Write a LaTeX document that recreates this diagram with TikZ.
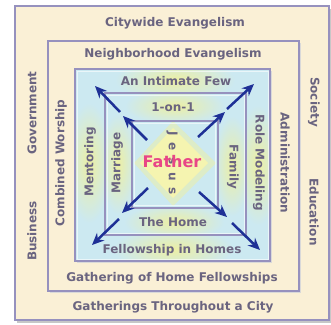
\documentclass[tikz,border=0pt]{standalone}
\usepackage{fontspec}
\setmainfont{DejaVu Sans}
\usetikzlibrary{arrows.meta}
\definecolor{cream}{RGB}{250,240,214}
\definecolor{bluefill}{RGB}{204,233,241}
\definecolor{edge}{RGB}{150,145,190}
\definecolor{txt}{RGB}{106,100,128}
\definecolor{arrowblue}{RGB}{30,48,150}
\definecolor{glowy}{RGB}{242,240,150}
\definecolor{fatherpink}{RGB}{232,70,135}
\begin{document}
\begin{tikzpicture}[x=1pt,y=-1pt,
  lbl/.style={font=\fontsize{12}{14}\bfseries\selectfont, text=txt, inner sep=0pt},
  frame/.style={draw=edge, line width=1.4pt},
  bevel/.style={draw=white, opacity=.6, line width=1pt},
  arr/.style={draw=arrowblue, line width=2.5pt, -{Stealth[length=12pt,width=10.5pt]}},
  glow/.style={inner color=glowy!85!bluefill, outer color=bluefill}
]
\useasboundingbox (0,0) rectangle (331,324);
\fill[white] (0,0) rectangle (331,324);
% outer box with shadow
\fill[black!22] (17,9) rectangle (331,323);
\fill[cream] (15,6) rectangle (329,320);
% neighborhood box
\fill[black!15] (50,43) rectangle (301,293);
\fill[cream] (48,41) rectangle (299,291);
% intimate box
\fill[black!15] (77,71) rectangle (272,263);
\fill[bluefill] (75,69) rectangle (270,261);
\begin{scope}
\clip (75,69) rectangle (270,261);
\shade[glow] (175,80) ellipse (60 and 22);
\shade[glow] (173,249) ellipse (60 and 22);
\shade[glow] (89,163) ellipse (22 and 60);
\shade[glow] (258,165) ellipse (22 and 60);
\end{scope}
% 1-on-1 box
\fill[bluefill] (105,93) rectangle (246,235);
\begin{scope}
\clip (105,93) rectangle (246,235);
\shade[glow] (175,106) ellipse (50 and 18);
\shade[glow] (174,222) ellipse (50 and 18);
\shade[glow] (118,164) ellipse (18 and 50);
\shade[glow] (232,166) ellipse (18 and 50);
\end{scope}
% Jesus box
\fill[bluefill] (132,121) rectangle (218,208);
\fill[glowy!45!bluefill] (173,121) -- (216,163) -- (173,206) -- (134,163) -- cycle;
\fill[glowy!75!white] (173,128) -- (208,163) -- (173,198) -- (140,163) -- cycle;
% frames
\draw[frame] (15,6) rectangle (329,320);
\draw[frame] (48,41) rectangle (299,291);
\draw[frame] (75,69) rectangle (270,261);
\draw[bevel] (77,71) rectangle (268,259);
\draw[frame] (105,93) rectangle (246,235);
\draw[bevel] (107,95) rectangle (244,233);
\draw[frame] (132,121) rectangle (218,208);
\draw[bevel] (134.5,123.5) rectangle (215.5,205.5);
% horizontal labels
\node[lbl] (cw) at (175,23) {Citywide Evangelism};
\node[lbl] (ne) at (173,54) {Neighborhood Evangelism};
\node[lbl] (aif) at (176,81) {An Intimate Few};
\node[lbl] (one) at (173,107) {1-on-1};
\node[lbl] (home) at (173,222) {The Home};
\node[lbl] (fih) at (172,250) {Fellowship in Homes};
\node[lbl] (ghf) at (172,278) {Gathering of Home Fellowships};
\node[lbl] (gtc) at (173,307) {Gatherings Throughout a City};
% left vertical labels
\node[lbl, rotate=90] (gov) at (32,113) {Government};
\node[lbl, rotate=90] (bus) at (32,231) {Business};
\node[lbl, rotate=90] (cwo) at (61,163) {Combined Worship};
\node[lbl, rotate=90] (men) at (90,162) {Mentoring};
\node[lbl, rotate=90] (mar) at (117,163) {Marriage};
% right vertical labels
\node[lbl, rotate=-90] (soc) at (314,102) {Society};
\node[lbl, rotate=-90] (edu) at (314,212) {Education};
\node[lbl, rotate=-90] (adm) at (285,163) {Administration};
\node[lbl, rotate=-90] (role) at (259,163) {Role Modeling};
\node[lbl, rotate=-90] (fam) at (233,167) {Family};
% center
\node[lbl, rotate=-90] (jesus) at (172,163) {J\hspace{7pt}e\hspace{7pt}s\hspace{7pt}u\hspace{7pt}s};
\node[font=\fontsize{16}{18}\bfseries\selectfont, text=fatherpink, inner sep=0pt] (father) at (172,162) {Father};
% arrows
\coordinate (a1) at (147,140); \coordinate (a2) at (123,116);
\coordinate (a3) at (120,112); \coordinate (a4) at (95,86);
\coordinate (b1) at (198,137); \coordinate (b2) at (225,112);
\coordinate (b3) at (227,109); \coordinate (b4) at (254,84);
\coordinate (c1) at (148,188); \coordinate (c2) at (122,213);
\coordinate (c3) at (119,219); \coordinate (c4) at (92,245);
\coordinate (d1) at (199,192); \coordinate (d2) at (227,217);
\coordinate (d3) at (232,223); \coordinate (d4) at (260,250);
\draw[arr] (a1) -- (a2); \draw[arr] (a3) -- (a4);
\draw[arr] (b1) -- (b2); \draw[arr] (b3) -- (b4);
\draw[arr] (c1) -- (c2); \draw[arr] (c3) -- (c4);
\draw[arr] (d1) -- (d2); \draw[arr] (d3) -- (d4);
\end{tikzpicture}
\end{document}
